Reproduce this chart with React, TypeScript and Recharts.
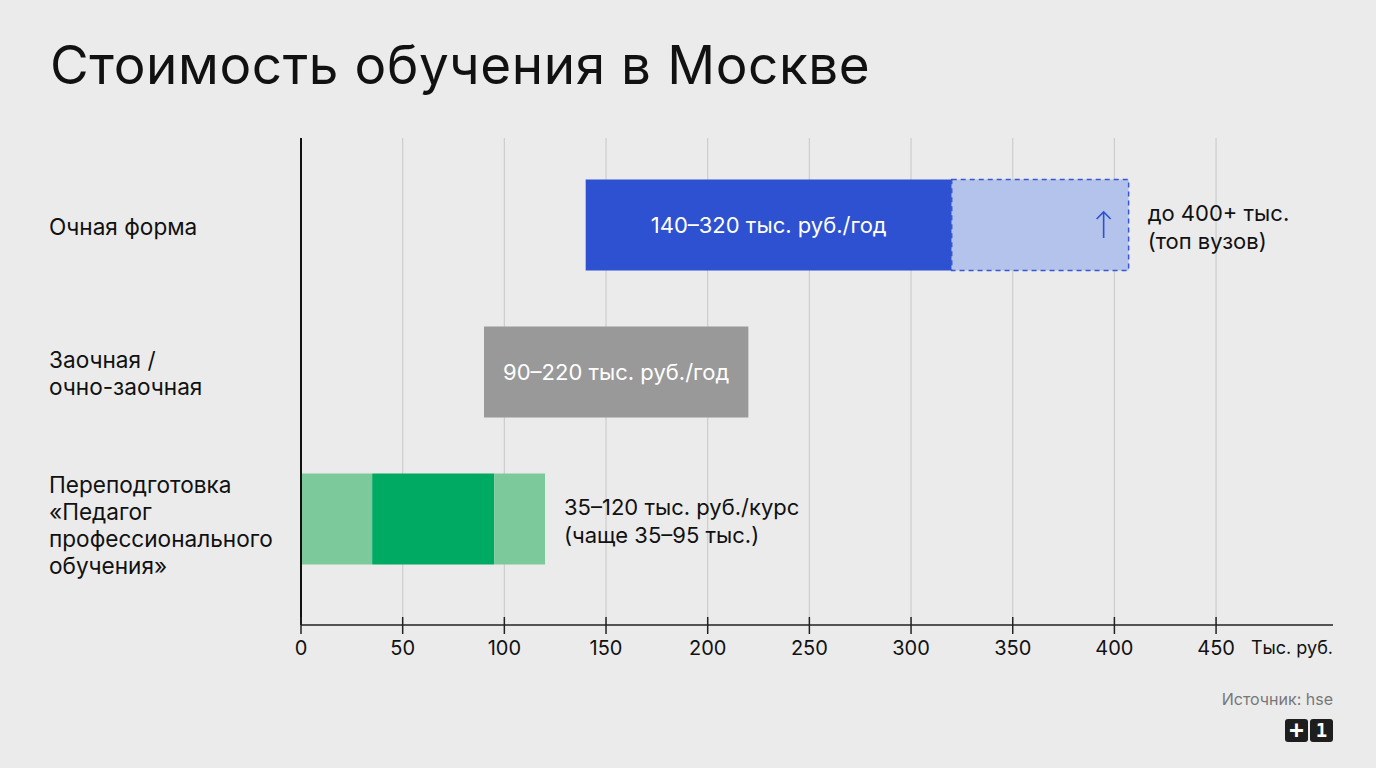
import { BarChart, Bar, XAxis, YAxis, CartesianGrid, Cell, LabelList } from 'recharts';

// rows of the chart, top to bottom
const categories = [
    'Очная форма',
    'Заочная /\nочно-заочная',
    'Переподготовка\n«Педагог\nпрофессионального\nобучения»',
];

// edges of the coloured pieces of each bar, тыс. руб.
const segmentEdges = [
    [140, 320, 407],
    [90, 220],
    [0, 35, 95, 120],
];

const segmentColors = [
    ['#2d51d1', '#b4c3eb'],
    ['#999999'],
    ['#7cc99c', '#00aa63', '#7cc99c'],
];

const innerLabels = ['140–320 тыс. руб./год', '90–220 тыс. руб./год', ''];
const sideLabels = [
    ['до 400+ тыс.', '(топ вузов)'],
    [],
    ['35–120 тыс. руб./курс', '(чаще 35–95 тыс.)'],
];
const arrowRows = [0];

const xTicks = [0, 50, 100, 150, 200, 250, 300, 350, 400, 450];

const FONT = 'Inter, "Noto Sans", Arial, sans-serif';
const segKeys = ['s0', 's1', 's2'];

const data = categories.map((name, i) => {
    const e = segmentEdges[i];
    const row: any = { name, base: e[0] };
    segKeys.forEach((k, j) => {
        row[k] = e[j + 1] !== undefined ? e[j + 1] - e[j] : 0;
    });
    return row;
});

const YTick = (props: any) => {
    const { y, payload } = props;
    const lines = String(payload.value).split('\n');
    const lh = 27;
    // long label sits a little below the bar centre, as in the original
    const shift = lines.length > 2 ? 5 : 0;
    return (
        <text x={49} y={y} fill="#111" fontSize={22.6} fontFamily={FONT} textAnchor="start">
            {lines.map((l, i) => (
                <tspan key={i} x={49} dy={i === 0 ? -((lines.length - 1) / 2) * lh + 9.5 + shift : lh}>{l}</tspan>
            ))}
        </text>
    );
};

const XTick = (props: any) => {
    const { x, y, payload } = props;
    return (
        <g>
            <line x1={x} x2={x} y1={y - 8} y2={y + 9} stroke="#222" strokeWidth={1.5} />
            <text x={x} y={y + 30} fill="#111" fontSize={20} fontFamily={FONT} textAnchor="middle">{payload.value}</text>
        </g>
    );
};

const makeLabel = (segIndex: number) => (props: any) => {
    const { x, y, width, height, value } = props;
    const index = categories.indexOf(value);
    if (!width || index < 0) return null;
    const cy = y + height / 2;
    const nSeg = segmentEdges[index].length - 1;
    const out: any[] = [];
    if (segIndex === 0 && innerLabels[index]) {
        out.push(
            <text key="in" x={x + width / 2} y={cy + 8} fill="#fff" fontSize={22} fontFamily={FONT} textAnchor="middle">
                {innerLabels[index]}
            </text>
        );
    }
    if (segIndex === nSeg - 1) {
        if (arrowRows.includes(index)) {
            out.push(
                <g key="arr" stroke="#2d51d1" strokeWidth={1.6} fill="none">
                    <line x1={x + width - 25} x2={x + width - 25} y1={cy - 13} y2={cy + 13} />
                    <polyline points={`${x + width - 32},${cy - 6} ${x + width - 25},${cy - 13} ${x + width - 18},${cy - 6}`} />
                </g>
            );
        }
        const lines = sideLabels[index];
        if (lines.length) {
            out.push(
                <text key="side" x={x + width + 19} y={cy} fill="#111" fontSize={22} fontFamily={FONT} textAnchor="start">
                    {lines.map((l, i) => (
                        <tspan key={i} x={x + width + 19} dy={i === 0 ? -4 : 28}>{l}</tspan>
                    ))}
                </text>
            );
        }
    }
    return <g>{out}</g>;
};

export default function App() {
    return (
        <div style={{ position: 'absolute', left: 0, top: 0, width: 1376, height: 768, background: '#ebebeb', fontFamily: FONT, overflow: 'hidden' }}>
            <div style={{ position: 'absolute', left: 50, top: 33, fontSize: 53, fontWeight: 400, color: '#111', letterSpacing: 0.6, lineHeight: 'normal' }}>
                Стоимость обучения в Москве
            </div>
            <div style={{ position: 'absolute', left: 0, top: 0 }}>
                <BarChart
                    width={1376}
                    height={768}
                    data={data}
                    layout="vertical"
                    margin={{ top: 138, right: 43, left: 0, bottom: 103 }}
                    barSize={91}
                >
                    <CartesianGrid horizontal={false} stroke="#cdcdcd" strokeWidth={1.2} verticalValues={xTicks} />
                    <XAxis
                        type="number"
                        domain={[0, 507.5]}
                        ticks={xTicks}
                        height={40}
                        tickSize={0}
                        tickMargin={0}
                        tickLine={false}
                        axisLine={{ stroke: '#222', strokeWidth: 1.5 }}
                        tick={<XTick />}
                        interval={0}
                    />
                    <YAxis
                        type="category"
                        dataKey="name"
                        width={301}
                        padding={{ top: 13.5, bottom: 32.5 }}
                        tickLine={false}
                        axisLine={{ stroke: '#111', strokeWidth: 2 }}
                        tick={<YTick />}
                        interval={0}
                    />
                    <Bar dataKey="base" stackId="a" fill="transparent" isAnimationActive={false} />
                    {segKeys.map((k, j) => (
                        <Bar key={k} dataKey={k} stackId="a" isAnimationActive={false}>
                            {data.map((_, i) => (
                                <Cell
                                    key={i}
                                    fill={segmentColors[i][j] || 'transparent'}
                                    stroke={i === 0 && j === 1 ? '#3858d2' : 'none'}
                                    strokeWidth={1.5}
                                    strokeDasharray="5 4"
                                />
                            ))}
                            <LabelList dataKey="name" content={makeLabel(j)} />
                        </Bar>
                    ))}
                </BarChart>
            </div>
            <div style={{ position: 'absolute', right: 43, top: 637, fontSize: 18, color: '#111' }}>Тыс. руб.</div>
            <div style={{ position: 'absolute', right: 43, top: 689, fontSize: 16, color: '#777' }}>Источник: hse</div>
            <div style={{ position: 'absolute', right: 43, top: 719, display: 'flex', gap: 2 }}>
                {['+', '1'].map(s => (
                    <div key={s} style={{ width: 23, height: 23, background: '#1e1e1e', color: '#fff', borderRadius: 3, fontSize: s === '+' ? 24 : 19, fontWeight: 800, lineHeight: '23px', textAlign: 'center', fontFamily: '"DejaVu Sans Mono", monospace' }}>{s}</div>
                ))}
            </div>
        </div>
    );
}
